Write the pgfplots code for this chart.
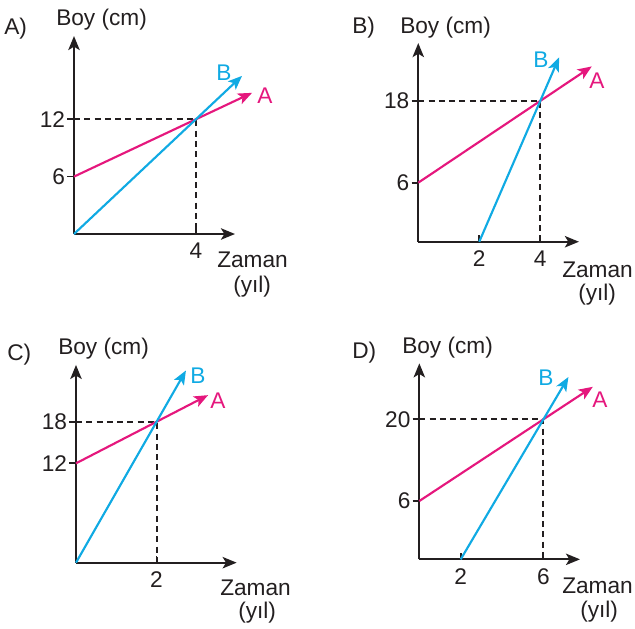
\documentclass[border=0pt]{standalone}
\usepackage{pgfplots}
\pgfplotsset{compat=1.18}
\usepackage{fontspec}
\setmainfont{Liberation Sans}
\usetikzlibrary{arrows.meta}
\definecolor{ink}{HTML}{231F20}
\definecolor{mag}{HTML}{E5177D}
\definecolor{cya}{HTML}{10AAE3}
\newcommand{\lbl}{\fontsize{17}{19}\selectfont}
\pgfplotsset{
  panel/.style={
    scale only axis, clip=false,
    anchor=south west,
    axis lines=left,
    axis line style={ink, line width=1.7pt, -{Stealth[length=10.5pt,width=8.5pt,inset=2.5pt]}},
    tick align=outside,
    major tick length=5pt,
    tick style={ink, line width=1.3pt},
    x tick style={yshift=5pt},
    tick label style={font=\lbl, text=ink, inner sep=1.5pt},
  },
  lineA/.style={mag, line width=1.6pt, -{Stealth[length=10.5pt,width=8.5pt,inset=2.5pt]}},
  lineB/.style={cya, line width=1.6pt, -{Stealth[length=10.5pt,width=8.5pt,inset=2.5pt]}},
  guide/.style={ink, line width=1.5pt, dash pattern=on 4.5pt off 3.2pt},
}
\newcommand{\T}[4]{\node[anchor=base west, inner sep=0pt, text=#3, font=\lbl] at (#1*0.75pt,-#2*0.75pt) {#4};}
\begin{document}
\begin{tikzpicture}
\path[use as bounding box] (0,0) rectangle (476.25pt,-471pt);

% Panel A
\begin{axis}[panel, at={(55.5pt,-175.5pt)}, width=120.75pt, height=148.5pt,
  xmin=0, xmax=5.28, ymin=0, ymax=20.7,
  xtick={4}, xticklabels={4}, ytick={6,12}, yticklabels={6,12}]
\addplot[guide] coordinates {(0,12) (4,12) (4,0)};
\addplot[lineA] coordinates {(0,6) (5.84,14.76)};
\addplot[lineB] coordinates {(0,0) (5.51,16.53)};
\end{axis}

% Panel B
\begin{axis}[panel, at={(313.7pt,-181.3pt)}, width=120.5pt, height=149pt,
  xmin=0, xmax=5.27, ymin=-2.67, ymax=26.5,
  xtick={2,4}, xticklabels={2,4}, ytick={6,18}, yticklabels={6,18}]
\addplot[guide] coordinates {(0,18) (4,18) (4,-2.67)};
\addplot[lineA] coordinates {(0,6) (5.69,23.07)};
\addplot[lineB] coordinates {(2,-2.67) (4.62,24.4)};
\end{axis}

% Panel C
\begin{axis}[panel, at={(57pt,-422pt)}, width=120.5pt, height=148.3pt,
  xmin=0, xmax=3.99, ymin=-2.34, ymax=26.2,
  xtick={2}, xticklabels={2}, ytick={12,18}, yticklabels={12,18}]
\addplot[guide] coordinates {(0,18) (2,18) (2,-2.34)};
\addplot[lineA] coordinates {(0,12) (3.28,21.84)};
\addplot[lineB] coordinates {(0,-2.34) (2.73,25.4)};
\end{axis}

% Panel D
\begin{axis}[panel, at={(314.5pt,-419.5pt)}, width=120.5pt, height=147pt,
  xmin=0, xmax=7.77, ymin=-4.0, ymax=29.6,
  xtick={2,6}, xticklabels={2,6}, ytick={6,20}, yticklabels={6,20}]
\addplot[guide] coordinates {(0,20) (6,20) (6,-4)};
\addplot[lineA] coordinates {(0,6) (8.39,25.58)};
\addplot[lineB] coordinates {(2,-4) (7.21,27.26)};
\end{axis}

% Texts panel A
\T{4}{34}{ink}{A)}
\T{56}{26}{ink}{Boy (cm)}
\T{216}{80}{cya}{B}
\T{257}{103}{mag}{A}
\T{217}{267}{ink}{Zaman}
\T{233}{292}{ink}{(yıl)}
% Texts panel B
\T{352}{33}{ink}{B)}
\T{400}{33}{ink}{Boy (cm)}
\T{533}{67}{cya}{B}
\T{589}{88}{mag}{A}
\T{562}{277}{ink}{Zaman}
\T{578}{300}{ink}{(yıl)}
% Texts panel C
\T{7}{360}{ink}{C)}
\T{58}{354}{ink}{Boy (cm)}
\T{190}{383}{cya}{B}
\T{210}{408}{mag}{A}
\T{220}{595}{ink}{Zaman}
\T{238}{618}{ink}{(yıl)}
% Texts panel D
\T{352}{358}{ink}{D)}
\T{402}{353}{ink}{Boy (cm)}
\T{538}{385}{cya}{B}
\T{592}{407}{mag}{A}
\T{562}{593}{ink}{Zaman}
\T{580}{617}{ink}{(yıl)}
\end{tikzpicture}
\end{document}
